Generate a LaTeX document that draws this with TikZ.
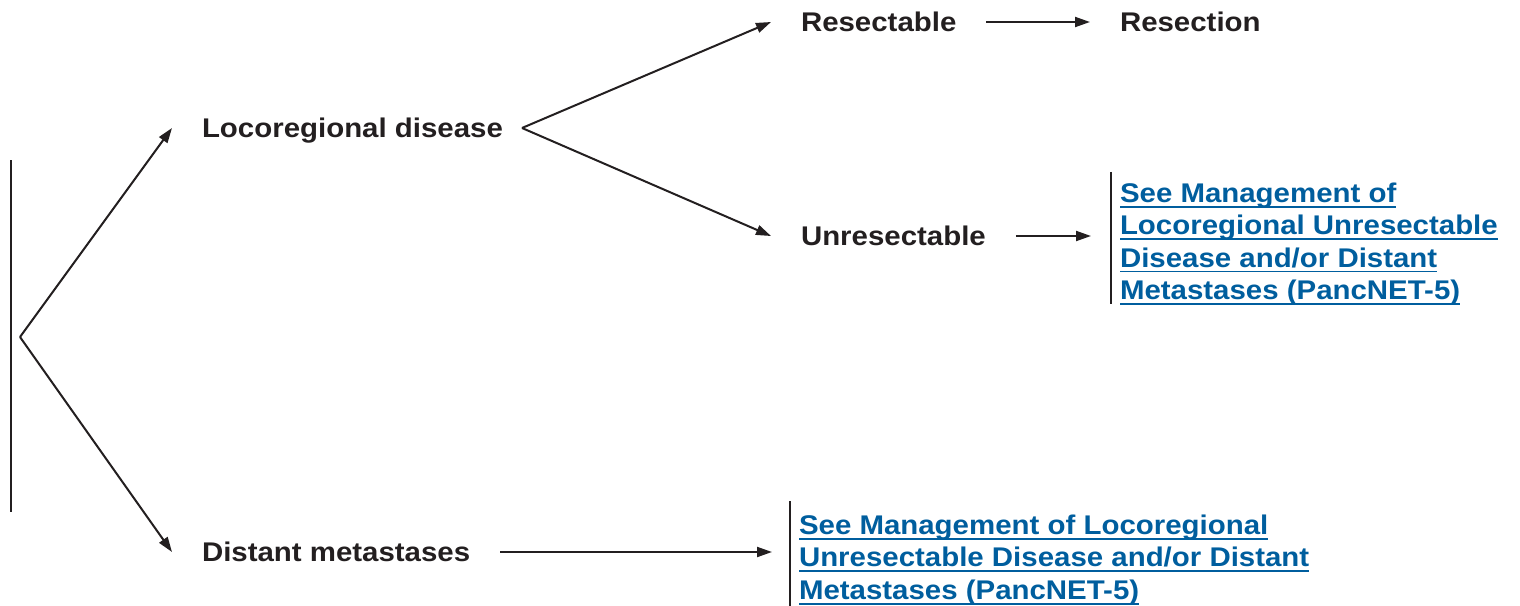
\documentclass[tikz,border=0pt]{standalone}
\usepackage{fontspec}
\setmainfont{Liberation Sans}[FakeStretch=1.09]
\usetikzlibrary{arrows.meta}
\definecolor{linkblue}{RGB}{0,94,158}
\definecolor{ink}{RGB}{35,31,32}
\newcommand{\ulnk}[1]{\setbox0\hbox{#1}\rlap{\rule[-2.6pt]{\wd0}{0.9pt}}\box0}

\begin{document}
\begin{tikzpicture}
  [x=0.5pt,y=-0.5pt,
   every node/.style={font=\fontsize{13.5}{16.2}\selectfont\bfseries,text=ink},
   stagebox/.style={anchor=west,inner sep=0pt,outer xsep=15pt,text height=9.6pt,text depth=0pt},
   linkbox/.style={anchor=west,align=left,text=linkblue,inner xsep=4.5pt,inner ysep=1pt,outer sep=0pt},
   arr/.style={draw=ink,line width=1pt,-{Triangle[length=7.5pt,width=5pt]}}]
  \useasboundingbox (0,0) rectangle (1520,605);

  \coordinate (root) at (20,337);
  \coordinate (fork) at (522,128);

  \node[stagebox] (loco)       at (172,128) {Locoregional disease};
  \node[stagebox] (distant)    at (172,552) {Distant metastases};
  \node[stagebox] (resectable) at (771,22)  {Resectable};
  \node[stagebox] (resection)  at (1090,22) {Resection};
  \node[stagebox] (unres)      at (771,236) {Unresectable};

  \node[linkbox] (linkA) at (1111,244)
    {\ulnk{See Management of}\\\ulnk{Locoregional Unresectable}\\
     \ulnk{Disease and/or Distant}\\\ulnk{Metastases (PancNET-5)}};
  \node[linkbox] (linkB) at (790,560)
    {\ulnk{See Management of Locoregional}\\
     \ulnk{Unresectable Disease and/or Distant}\\\ulnk{Metastases (PancNET-5)}};

  % bars
  \draw[ink,line width=1pt] (11,160) -- (11,512);
  \draw[ink,line width=1.2pt] ([yshift=4.5pt]linkA.north west) -- ([yshift=1.5pt]linkA.south west);
  \draw[ink,line width=1.2pt] ([yshift=6pt]linkB.north west) -- (linkB.south west);

  \draw[arr] (root) -- (loco.west);
  \draw[arr] (root) -- (distant.west);
  \draw[arr] (fork) -- (resectable.west);
  \draw[arr] (fork) -- (unres.west);
  \draw[arr] (resectable) -- (resection);
  \draw[arr,shorten >=10pt] (unres.east) -- (linkA.west |- unres.east);
  \draw[arr,shorten >=9pt] (distant.east) -- (linkB.west |- distant.east);
\end{tikzpicture}
\end{document}
